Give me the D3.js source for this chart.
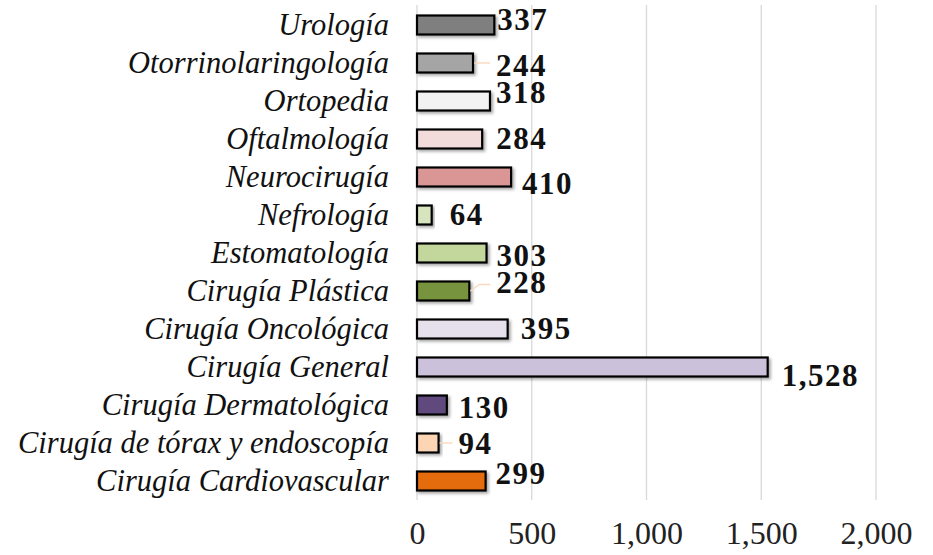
<!DOCTYPE html>
<html><head><meta charset="utf-8">
<script src="https://cdn.jsdelivr.net/npm/d3@7"></script>
<style>body{margin:0;background:#fff}svg{display:block}</style>
</head><body>
<svg id="c" width="933" height="555"></svg>
<script>
const categories = ["Urología","Otorrinolaringología","Ortopedia","Oftalmología","Neurocirugía","Nefrología","Estomatología","Cirugía Plástica","Cirugía Oncológica","Cirugía General","Cirugía Dermatológica","Cirugía de tórax y endoscopía","Cirugía Cardiovascular"];
const values = [337,244,318,284,410,64,303,228,395,1528,130,94,299];
const colors = ["#7f7f7f","#a5a5a5","#f2f2f2","#f2dcdb","#d99694","#d7e4bd","#c3d69b","#77933c","#e6e0ec","#ccc1da","#604a7b","#fcd5b5","#e46c0a"];
const xTicks = [0,500,1000,1500,2000];
// label placement offsets (dx from bar end, dy from bar centre) and leader flags
const labelDx = [3,23,6,14,11,18,10,27,13,14,12,20,10];
const labelDy = [-5.5,2.5,-8.5,0,7,0,2.5,-8.5,0,9,2.5,1,-7];
const leader = [0,1,0,0,0,0,0,1,0,0,0,1,0];

const svg = d3.select("#c");
const x = d3.scaleLinear().domain([0,2000]).range([417,876]);
const y = d3.scaleBand().domain(categories).range([6,500]).paddingInner(0.5).paddingOuter(0.25);

const defs = svg.append("defs");
const f = defs.append("filter").attr("id","sh").attr("x","-10%").attr("y","-30%").attr("width","130%").attr("height","190%");
f.append("feDropShadow").attr("dx",2).attr("dy",2).attr("stdDeviation",1.6).attr("flood-color","#000").attr("flood-opacity",0.35);

// grid
svg.append("g").selectAll("line").data(xTicks).join("line")
  .attr("x1",d=>x(d)).attr("x2",d=>x(d)).attr("y1",5).attr("y2",500)
  .attr("stroke","#d9d9d9").attr("stroke-width",1.3);

// x axis labels
const xa = svg.append("g").attr("transform","translate(0,500)")
  .call(d3.axisBottom(x).tickValues(xTicks).tickSize(0).tickPadding(21).tickFormat(d3.format(",")));
xa.select(".domain").remove();
xa.selectAll("text").attr("font-family","'Liberation Serif', serif").attr("font-size",32).attr("fill","#222");

// y labels
const ya = svg.append("g").attr("transform","translate(389,0)")
  .call(d3.axisLeft(y).tickSize(0).tickPadding(0));
ya.select(".domain").remove();
ya.selectAll("text").attr("font-family","'Liberation Serif', serif").attr("font-style","italic").attr("font-size",30.5).attr("fill","#111");

// bars
svg.append("g").selectAll("rect").data(values).join("rect")
  .attr("x",x(0)).attr("y",(d,i)=>y(categories[i]))
  .attr("width",d=>x(d)-x(0)).attr("height",y.bandwidth())
  .attr("fill",(d,i)=>colors[i]).attr("stroke","#000").attr("stroke-width",2.2)
  .attr("filter","url(#sh)");

// leaders
const cy = i => y(categories[i]) + y.bandwidth()/2;
svg.append("g").selectAll("path").data(values.map((v,i)=>i).filter(i=>leader[i])).join("path")
  .attr("d", i => {
    const x0 = x(values[i]) + 1, y0 = cy(i);
    const x2 = x(values[i]) + labelDx[i] - 6;
    if (Math.abs(labelDy[i]) < 4) return `M${x0},${y0}H${x2}`;
    const y1 = y0 + labelDy[i] + 2;
    return `M${x0},${y0}L${x0+9},${y1}H${x2}`;
  })
  .attr("fill","none").attr("stroke","#fbd9c0").attr("stroke-width",1.4);

// value labels
svg.append("g").selectAll("text").data(values).join("text")
  .attr("x",(d,i)=>x(d)+labelDx[i]).attr("y",(d,i)=>cy(i)+labelDy[i])
  .attr("dy","0.33em")
  .attr("font-family","'Liberation Serif', serif").attr("font-weight","bold").attr("font-size",31).attr("letter-spacing",1.5).attr("fill","#111")
  .text(d=>d3.format(",")(d));
</script>
</body></html>
